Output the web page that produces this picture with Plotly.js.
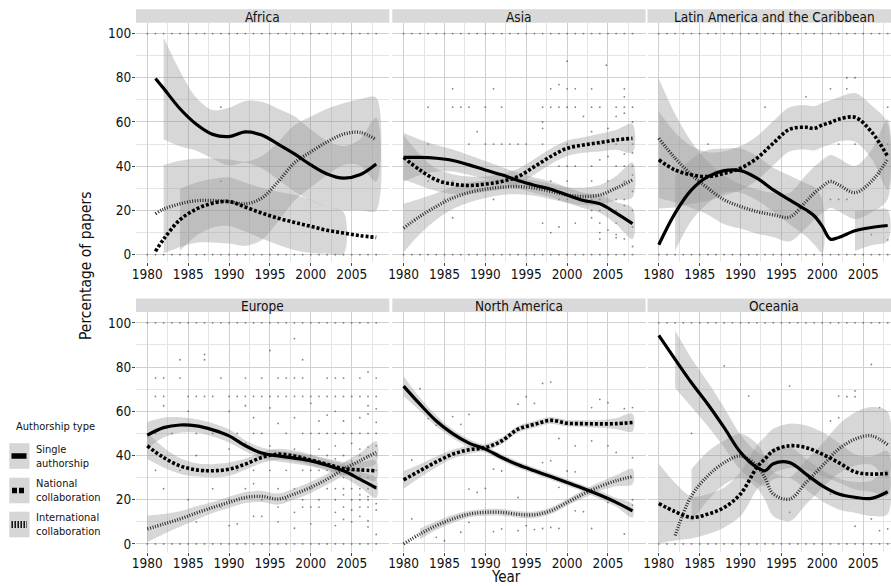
<!DOCTYPE html>
<html>
<head>
<meta charset="utf-8">
<script src="https://cdn.plot.ly/plotly-3.0.1.min.js"></script>
<style>
html,body{margin:0;padding:0;background:#fff;}
#chart{width:891px;height:586px;}
</style>
</head>
<body>
<div id="chart"></div>
<script>
// ---------------- DATA ----------------
const regions = ["Africa", "Asia", "Latin America and the Caribbean", "Europe", "North America", "Oceania"];
const seriesNames = ["Single authorship", "National collaboration", "International collaboration"];
const xTicks = [1980, 1985, 1990, 1995, 2000, 2005];
const yTicks = [0, 20, 40, 60, 80, 100];

// years with a dot at 100 % and at 0 % (one paper per year)
const rowYears = [1980,1981,1982,1983,1984,1985,1986,1987,1988,1989,1990,1991,1992,1993,1994,1995,1996,1997,1998,1999,2000,2001,2002,2003,2004,2005,2006,2007,2008];

// ---- Africa ----
const africaYears = [1981,1982,1984,1986,1988,1990,1992,1994,1996,1998,2000,2002,2004,2006,2008];
const africaSingle = [79.7,75.2,66,59,54.4,53.4,55.5,54.1,50,45.6,40.6,36.5,34.6,36.1,41];
const africaSingleCI = [26,23,17,12,11,13,14,15,16,17,16,15,14.5,16,21];
const africaNational = [1.5,7,15.8,20.6,23.3,24,21.5,18.8,16.5,14.6,12.8,11,9.8,8.6,7.8];
const africaNationalCI = [16,15.5,14,12,11,11,11,11.5,12,12.5,12,10.5,9.5,10,11];
const africaIntl = [18.5,20.6,23,24.4,24.5,24,23,25.6,33,41.5,46.5,51,54.5,55.3,52];
const africaIntlCI = [21,20,19.5,19,19,19,19,19,18,17,16,15,14,15,19];
const africaDots = [[1989,66.7],[1989,33.3]];

// ---- Asia ----
const asiaYears = [1980,1982,1984,1986,1988,1990,1992,1994,1996,1998,2000,2002,2004,2006,2008];
const asiaSingle = [44,44,43.6,42.6,40.6,38.3,36.1,33.5,31.4,29.6,27,24.5,23,18.8,14];
const asiaSingleCI = [11,8,6,5,4.5,4,3.5,3.5,3.5,3.5,3.5,3.5,4,5,7];
const asiaNational = [44,38.3,33.8,31.9,31.3,31.9,33.1,35.3,39.8,44.4,48.1,49.6,50.7,51.9,52.6];
const asiaNationalCI = [10,7,5,4.5,4,3.5,3.5,3.5,3.5,3.5,3.5,3.5,4,4.5,6.5];
const asiaIntl = [12,17.3,21.8,25.6,28.1,29.6,30.5,30.8,30.1,28.6,27,26.3,27,30.1,33.8];
const asiaIntlCI = [11,8,6,5,4.5,4,3.5,3.5,3.5,3.5,3.5,4,4.5,5.5,8];
const asiaDots = [[1986,75],[1991,75],[1998,75],[1999,76.9],[2000,75],[2001,75],[2003,75],[2004.8,85.7],[2007,75],[2007,71.4],[2000,87.5],
 [1983,66.7],[1986,66.7],[1987,66.7],[1988,66.7],[1990,66.7],[1992,66.7],[1997,66.7],[1998,66.7],[1999,66.7],[2000,66.7],[2001,66.7],[2003,66.7],[2004,66.7],[2006,66.7],[2007,66.7],[2008,66.7],
 [2002,62.5],[2006,62.5],[2007,64],[2008,60],[1997,60],[1997,57.1],[1989,55.6],[2003,55.6],[2005,57.1],
 [1983,50],[1988,50],[1990,50],[1991,50],[1992,50],[1993,50],[1994,50],[1995,50],[1997,50],[2000,50],[2002,50],[2004,50],[2006,50],[2008,50],
 [2007,45.5],[2008,46],[2005,44.4],[1999,40],[2000,40],[2001,40],[2003,40],[2004,42.9],[2006,40],[2007,40],[2008,40],
 [1983,33.3],[1986,33.3],[1992,33.3],[1998,33.3],[2000,33.3],[2003,33.3],[2005,33.3],[2007,33.3],[2008,36],
 [1985,25],[1991,25],[1999,25],[2000,25],[2003,25],[2004,25],[2006,25],[2007,25],[2008,28.6],
 [2003,20],[2004,20],[2006,20],[2007,22.2],[2008,20],[1986,16.7],[1997,14.3],[1999,12.5],[2001,14.3],[2003,16.7],[2004,14.3],[2006,14.3],[2008,12.5],
 [1998,10],[2004,10],[2005,11.1],[2006,9.1],[2006,7.7],[2007,7.1],[2004,7.1],[2008,3.7]];

// ---- Latin America and the Caribbean ----
const latamYears = [1980,1982,1984,1986,1988,1990,1992,1994,1996,1998,1999,2000,2001,2002,2004,2006,2008];
const latamSingle = [4.5,18.8,29.3,35.3,38,38,34.6,29.3,24.8,20.3,17.6,12.8,7,7.8,10.8,12.3,13.2];
const latamSingleCI = [18,17,14,12,10,10,10,10,11,12,13,12,10,9,9,8,7];
const latamNational = [42.9,38.3,36.1,35.3,36.8,39.1,43.6,50.4,56.7,57.6,57.1,58.6,59.8,61.2,62.1,55.6,44.4];
const latamNationalCI = [22,17,13,11,10,10,10,10,10,10,10,10,10,10,11,12,15];
const latamIntl = [52.6,43.6,36.1,30.1,24.8,21.8,19.5,18,17,24,27.8,30.8,33.1,31.6,28.1,33.1,43.2];
const latamIntlCI = [27,20,15,12,11,10,10,10,11,12,12,12,12,12,12,14,18];
const latamDots = [[2001,75],[2003,75],[1998,71.4],[2004,80],[2003,80],[1993,66.7],[2008,66.7],[1986,50],[2002,50],[2004,50],[2008,50],
 [2007,36.4],[2001,25],[2002,25],[2003,25],[2006,9.1],[2008,6.7]];

// ---- Europe ----
const europeYears = [1980,1982,1984,1986,1988,1990,1992,1994,1996,1998,2000,2002,2004,2006,2008];
const europeSingle = [49.2,52.6,53.8,53.4,51.6,48.9,44.4,41.1,39.8,38.8,37.6,35.6,33.1,29.3,25.3];
const europeSingleCI = [6,4.5,3.5,3,3,3,2.5,2.5,2.5,2.5,2.5,2.5,3,3.5,4.5];
const europeNational = [44.4,39.1,35.3,33.5,33.1,33.8,36.1,39.1,40.6,39.8,38,36.1,34.1,33.5,33.1];
const europeNationalCI = [6,4.5,3.5,3,3,3,2.5,2.5,2.5,2.5,2.5,2.5,3,3.5,4.5];
const europeIntl = [6.8,9,11.3,14,16.5,18.8,21,21.5,20.3,22.6,25.6,29.3,33.8,37.6,41.4];
const europeIntlCI = [6,4.5,3.5,3,2.5,2.5,2.5,2.5,2.5,2.5,2.5,2.5,3,3.5,5];
const europeDots = [[1984,83.3],[1987,85.7],[1987,83.3],[1998,92.9],[1995,87.5],[1999,83.3],
 [1981,75],[1982,75],[1984,75],[1989,75],[1992,75],[1994,75],[1996,75],[1997,75],[1998,75],[1999,75],[2002,75],[2003,75],[2004,75],[2006,75],[2008,75],[2007,77.8],
 [1981,66.7],[1982,66.7],[1985,66.7],[1986,66.7],[1987,66.7],[1988,66.7],[1990,66.7],[1991,66.7],[1992,66.7],[1993,66.7],[1994,66.7],[1995,66.7],[1996,66.7],[1997,66.7],[1998,66.7],[1999,66.7],[2000,66.7],[2001,66.7],[2002,66.7],[2003,66.7],[2004,66.7],[2005,66.7],[2006,66.7],[2007,66.7],[2008,66.7],
 [1982,62.5],[1992,62.5],[1995,61.5],[2007,62.5],[2008,61.1],[2000,63.6],
 [1985,60],[1990,60],[1993,57.1],[1998,57.1],[2002,58.3],[2003,60],[2006,57.1],[2007,58.8],[2001,55.6],[1996,54.5],[2004,55.6],[2008,55],
 [1981,50],[1983,50],[1986,50],[1988,50],[1989,50],[1991,50],[1993,50],[1994,50],[1997,50],[1999,50],[2000,50],[2001,50],[2002,50],[2003,50],[2004,50],[2005,50],[2006,50],[2007,50],[2008,50],
 [1992,45.5],[1995,44.4],[1998,42.9],[2001,42.9],[2003,44.4],[2005,45.5],[2006,42.9],[2007,43.8],[2008,44.4],[1990,42.9],[1986,40],[1994,40],[2000,40],[2002,40],[2004,40],[2006,40],[2007,40],[2008,40],[2003,38.5],[2005,37.5],
 [1981,33.3],[1984,33.3],[1987,33.3],[1989,33.3],[1991,33.3],[1993,33.3],[1995,33.3],[1997,33.3],[1999,33.3],[2000,33.3],[2001,33.3],[2002,33.3],[2003,33.3],[2004,33.3],[2005,33.3],[2006,33.3],[2007,33.3],[2008,33.3],[2006,30.8],[2007,30],[2004,30],
 [1982,25],[1988,25],[1992,25],[1993,27.3],[1996,25],[1998,25],[2000,25],[2002,25],[2003,25],[2004,25],[2005,25],[2006,25],[2007,25],[2008,25],[2004,22.2],[2006,22.2],[2007,21.4],
 [1985,20],[1990,20],[1994,20],[1997,20],[1999,20],[2001,20],[2003,20],[2005,20],[2006,20],[2007,20],[2008,18.2],
 [1989,16.7],[1993,12.5],[1994,12.5],[1996,16.7],[1998,14.3],[1999,16.7],[2000,16.7],[2001,16.7],[2003,14.3],[2004,16.7],[2005,15.4],[2006,16.7],[2007,16.7],[2008,15.4],
 [1986,10],[1990,8.3],[1991,9.1],[1996,10],[1998,7.1],[2000,9.1],[2003,8.3],[2004,11.1],[2005,10],[2006,12.5],[2007,10.5],[2007,7.7],[2008,4.3]];

// ---- North America ----
const naYears = [1980,1982,1984,1986,1988,1990,1992,1994,1996,1998,2000,2002,2004,2006,2008];
const naSingle = [71.4,63.2,55.6,49.9,45.6,42.9,39.1,35.8,33.1,30.5,27.8,25.1,22.1,18.8,15];
const naSingleCI = [4.5,3,2.5,2,1.8,1.5,1.5,1.5,1.5,1.5,1.5,1.5,1.8,2,3];
const naNational = [29,33.1,37.1,40.6,42.6,43.6,46.6,51.9,54.1,55.9,54.6,54.4,54.3,54.4,54.9];
const naNationalCI = [4,3,2.5,2,1.8,1.5,1.5,1.5,1.5,1.5,1.5,1.5,1.8,2.5,4];
const naIntl = [0,4.5,8.3,11.3,13.5,14.3,14.3,13.4,13.2,15,18.8,22.6,26,28.6,30.5];
const naIntlCI = [3,2.5,2,1.8,1.5,1.5,1.5,1.5,1.5,1.5,1.5,1.8,2,2.5,3.5];
const naDots = [[1997,72.6],[1998,73.2],[1995,66.6],[1994,63.2],[1996,63.6],[1982,70.2],[1986,57.6],[1987,54.1],[1988,58.6],[1983,56.7],[1984,53.7],
 [2003,61.7],[2004,65.4],[2005,63.9],[2007,61.2],[2008,61.7],[1999,47.7],[2001,44.4],[2003,46.6],[2005,44.4],[2006,41.4],[2008,39],
 [1997,36.8],[1998,37.6],[2000,33],[2001,32.6],[1992,33],[1991,33.8],[1981,38],[1988,24.8],[1989,23.3],[1990,25.1],[1994,21],[1999,25.6],
 [2001,15],[2002,14.6],[2005,18.8],[2008,20],[2008,17.6],[1981,11.3],[1984,3],[1985,1.5],[1987,5.3],[1988,9.8],[1991,5.6],[1992,6.8],
 [1994,6],[1995,8.3],[1996,6.5],[1997,7],[1998,7.5],[1999,7],[2003,7],[2007,4.5]];

// ---- Oceania ----
const oceaniaYears = [1980,1982,1984,1986,1988,1990,1992,1993,1994,1996,1998,2000,2002,2004,2006,2008];
const oceaniaSingle = [94.3,83.5,72.9,63.2,52.6,41.4,34.6,33.1,36.3,36.8,31.6,26.3,22.6,21.1,20.6,23.6];
const oceaniaSingleCI = [16,13,11,10,9,8,7,7,7,7,7,7,7,7,8,10];
const oceaniaNational = [18.3,14.6,12,13.5,16.5,22.6,34.6,38.5,42.1,44.4,43.6,40.6,36.8,32.6,31.6,31.9];
const oceaniaNationalCI = [18,13,9.5,9,9,10,10,10,10,10,10,10,9,8,8,10];
const oceaniaIntl = [null,3.8,21.8,30.8,36.8,39.8,35.3,29.8,22.6,20.3,27.8,35.3,42.9,47.4,48.9,44.8];
const oceaniaIntlCI = [null,14,12,11,10,10,10,10,10,10,10,10,11,12,13,15];
const oceaniaDots = [[1988,80.5],[1991,66.9],[1996,71.4],[2002,66.9],[2003,66.6],[2004,69.2],[2004,66.6],[2006,81.2],[2007,61.7],
 [2002,57.1],[2001,55.6],[1984,50],[1996,14.3],[2004,8],[2006,11.3],[2007,6],[2008,6.8],[2001,22.6]];

// ---------------- BUILD ----------------
const FONT = '"DejaVu Sans Condensed", "DejaVu Sans", sans-serif';
const W = 891, H = 586;
const px = x => x / W;
const py = y => 1 - y / H;

const panels = [
  {name: regions[0], xs: africaYears, s: africaSingle, sc: africaSingleCI, n: africaNational, nc: africaNationalCI, i: africaIntl, ic: africaIntlCI, dots: africaDots, rows: true, col: 0, row: 0},
  {name: regions[1], xs: asiaYears, s: asiaSingle, sc: asiaSingleCI, n: asiaNational, nc: asiaNationalCI, i: asiaIntl, ic: asiaIntlCI, dots: asiaDots, rows: true, col: 1, row: 0},
  {name: regions[2], xs: latamYears, s: latamSingle, sc: latamSingleCI, n: latamNational, nc: latamNationalCI, i: latamIntl, ic: latamIntlCI, dots: latamDots, rows: true, col: 2, row: 0},
  {name: regions[3], xs: europeYears, s: europeSingle, sc: europeSingleCI, n: europeNational, nc: europeNationalCI, i: europeIntl, ic: europeIntlCI, dots: europeDots, rows: true, col: 0, row: 1},
  {name: regions[4], xs: naYears, s: naSingle, sc: naSingleCI, n: naNational, nc: naNationalCI, i: naIntl, ic: naIntlCI, dots: naDots, rows: false, col: 1, row: 1},
  {name: regions[5], xs: oceaniaYears, s: oceaniaSingle, sc: oceaniaSingleCI, n: oceaniaNational, nc: oceaniaNationalCI, i: oceaniaIntl, ic: oceaniaIntlCI, dots: oceaniaDots, rows: true, col: 2, row: 1}
];

// geometry (pixels)
const colPx = [[136, 389.3], [392.3, 645.6], [647.5, 891]];
const colFull = [[136, 389.3], [392.3, 645.6], [647.5, 900.8]];
const pxPerYear = 8.176;
const xMin = 1978.62;
const rowPx = [[22.7, 262.4], [312, 551.7]];
const stripPx = [[9.3, 22.7], [298.6, 312]];

function bandPath(xs, fit, hw) {
  const X = [], Y = [];
  let run = [];
  const flush = () => {
    if (run.length > 1) {
      run.forEach(k => { X.push(xs[k]); Y.push(fit[k] + hw[k]); });
      for (let j = run.length - 1; j >= 0; j--) { const k = run[j]; X.push(xs[k]); Y.push(fit[k] - hw[k]); }
      X.push(null); Y.push(null);
    }
    run = [];
  };
  xs.forEach((x, k) => {
    const f = fit[k], h = hw[k];
    if (f == null || h == null || f + h > 100 || f - h < 0) flush(); else run.push(k);
  });
  flush();
  return {X, Y};
}

const traces = [];
const layout = {
  width: W, height: H,
  margin: {l: 0, r: 0, t: 0, b: 0},
  paper_bgcolor: '#ffffff',
  plot_bgcolor: '#ffffff',
  showlegend: false,
  font: {family: FONT, color: '#111', size: 12},
  shapes: [], annotations: []
};

const lineStyles = [
  {color: '#000000', width: 3.2, dash: 'solid'},
  {color: '#000000', width: 3.6, dash: '3px,2px'},
  {color: '#2a2a2a', width: 3.3, dash: '1px,1.6px'}
];

panels.forEach((p, idx) => {
  const ax = idx === 0 ? '' : String(idx + 1);
  const xa = 'x' + ax, ya = 'y' + ax;
  const [cx0, cx1] = colPx[p.col];
  const [ry0, ry1] = rowPx[p.row];
  const xMax = xMin + (cx1 - cx0) / pxPerYear;

  layout['xaxis' + ax] = {
    domain: [px(cx0), px(cx1)], anchor: ya, range: [xMin, xMax],
    tickmode: 'array', tickvals: xTicks, ticktext: xTicks.map(String),
    ticks: 'outside', ticklen: 3, tickcolor: '#444', tickwidth: 1,
    ticklabelstandoff: -4,
    showgrid: true, gridcolor: '#cfcfcf', gridwidth: 1,
    minor: {tickmode: 'linear', tick0: 1980, dtick: 2.5, showgrid: true, gridcolor: '#e4e4e4', gridwidth: 1, ticks: ''},
    zeroline: false, showline: false, fixedrange: true,
    tickfont: {family: FONT, size: 13.5, color: '#111'}
  };
  layout['yaxis' + ax] = {
    domain: [py(ry1), py(ry0)], anchor: xa, range: [-3.5, 104.9],
    tickmode: 'array', tickvals: yTicks, ticktext: yTicks.map(String),
    ticks: p.col === 0 ? 'outside' : '', ticklen: 3, tickcolor: '#444', tickwidth: 1,
    ticklabelstandoff: -2,
    showticklabels: p.col === 0,
    showgrid: true, gridcolor: '#cfcfcf', gridwidth: 1,
    minor: {tickmode: 'linear', tick0: 0, dtick: 10, showgrid: true, gridcolor: '#e4e4e4', gridwidth: 1, ticks: ''},
    zeroline: false, showline: false, fixedrange: true,
    tickfont: {family: FONT, size: 13.5, color: '#111'}
  };

  // dots
  const dx = [], dy = [];
  if (p.rows) { rowYears.forEach(y => { dx.push(y); dy.push(100); dx.push(y); dy.push(0); }); }
  p.dots.forEach(d => { dx.push(d[0]); dy.push(d[1]); });
  traces.push({type: 'scatter', mode: 'markers', x: dx, y: dy, xaxis: xa, yaxis: ya,
    marker: {size: 1.8, color: 'rgba(50,50,50,0.6)'}, hoverinfo: 'skip', cliponaxis: true});

  // bands
  [[p.s, p.sc], [p.n, p.nc], [p.i, p.ic]].forEach(([f, h]) => {
    const b = bandPath(p.xs, f, h);
    traces.push({type: 'scatter', mode: 'lines', x: b.X, y: b.Y, xaxis: xa, yaxis: ya,
      fill: 'toself', fillcolor: 'rgba(150,150,150,0.38)', line: {width: 0, shape: 'spline', smoothing: 0.9},
      hoverinfo: 'skip'});
  });
  // lines (international drawn first, single last)
  [[p.i, 2], [p.n, 1], [p.s, 0]].forEach(([f, k]) => {
    traces.push({type: 'scatter', mode: 'lines', name: seriesNames[k], x: p.xs, y: f, xaxis: xa, yaxis: ya,
      line: {color: lineStyles[k].color, width: lineStyles[k].width, dash: lineStyles[k].dash, shape: 'spline', smoothing: 1},
      connectgaps: false});
  });

  // strip
  const [sy0, sy1] = stripPx[p.row];
  const [fx0, fx1] = colFull[p.col];
  layout.shapes.push({type: 'rect', xref: 'paper', yref: 'paper', x0: px(cx0), x1: px(cx1), y0: py(sy1), y1: py(sy0),
    fillcolor: '#d9d9d9', line: {width: 0}, layer: 'below'});
  layout.annotations.push({xref: 'paper', yref: 'paper', x: px((fx0 + fx1) / 2), y: py((sy0 + sy1) / 2 + 0.5),
    text: p.name, showarrow: false, xanchor: 'center', yanchor: 'middle',
    font: {family: FONT, size: 13.5, color: '#111'}});
});

// axis titles
layout.annotations.push({xref: 'paper', yref: 'paper', x: px(86.5), y: py(266.5), text: 'Percentage of papers',
  textangle: -90, showarrow: false, xanchor: 'center', yanchor: 'middle', font: {family: FONT, size: 15.5, color: '#111'}});
layout.annotations.push({xref: 'paper', yref: 'paper', x: px(505.5), y: py(576.5), text: 'Year',
  showarrow: false, xanchor: 'center', yanchor: 'middle', font: {family: FONT, size: 15, color: '#111'}});

// legend (drawn manually, ggplot-style keys)
layout.annotations.push({xref: 'paper', yref: 'paper', x: px(14), y: py(426), text: 'Authorship type',
  showarrow: false, xanchor: 'left', yanchor: 'middle', font: {family: FONT, size: 11, color: '#111'}});
const keyCenters = [456, 490.5, 524.5];
const keyLabels = ['Single<br>authorship', 'National<br>collaboration', 'International<br>collaboration'];
const keyDash = ['solid', '5px,2px', '1.4px,1.6px'];
const keyWidth = [5.5, 5.5, 7];
const keyX = [[11.5, 26.5], [12, 26], [11.5, 27]];
keyCenters.forEach((c, k) => {
  layout.shapes.push({type: 'rect', xref: 'paper', yref: 'paper', x0: px(9.3), x1: px(29.5), y0: py(c + 12.8), y1: py(c - 12.8),
    fillcolor: '#d6d6d6', line: {width: 0}});
  layout.shapes.push({type: 'line', xref: 'paper', yref: 'paper', x0: px(keyX[k][0]), x1: px(keyX[k][1]), y0: py(c), y1: py(c),
    line: {color: '#000', width: keyWidth[k], dash: keyDash[k]}});
  layout.annotations.push({xref: 'paper', yref: 'paper', x: px(33.5), y: py(c), text: keyLabels[k],
    showarrow: false, xanchor: 'left', yanchor: 'middle', align: 'left', font: {family: FONT, size: 11, color: '#111'}});
});

Plotly.newPlot('chart', traces, layout, {staticPlot: true, displayModeBar: false});
</script>
</body>
</html>
